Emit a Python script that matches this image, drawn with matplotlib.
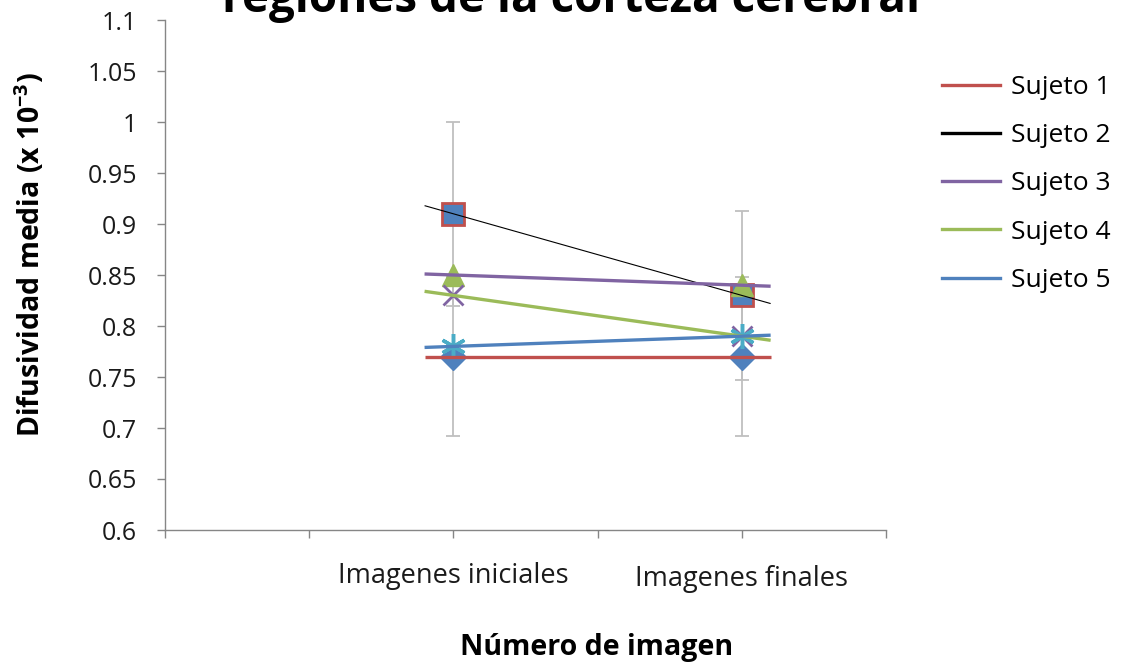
import numpy as np
import matplotlib
matplotlib.use("Agg")
import matplotlib.pyplot as plt
from matplotlib.lines import Line2D

plt.rcParams["font.family"] = ["Open Sans", "DejaVu Sans"]
plt.rcParams["mathtext.fontset"] = "custom"
plt.rcParams["mathtext.rm"] = "Open Sans"
plt.rcParams["mathtext.bf"] = "Open Sans:bold"

# --- data -------------------------------------------------------------
stages = ["Imagenes iniciales", "Imagenes finales"]
stage_x = [1, 2]
subjects = ["Sujeto 1", "Sujeto 2", "Sujeto 3", "Sujeto 4", "Sujeto 5"]
sujeto1 = [0.77, 0.77]
sujeto2 = [0.91, 0.83]
sujeto3 = [0.85, 0.84]
sujeto4 = [0.83, 0.79]
sujeto5 = [0.78, 0.79]
err_sujeto1 = [0.078, 0.078]
err_sujeto2 = [0.09, 0.083]
yticks = [0.6, 0.65, 0.7, 0.75, 0.8, 0.85, 0.9, 0.95, 1.0, 1.05, 1.1]
ytick_labels = ["0.6", "0.65", "0.7", "0.75", "0.8", "0.85", "0.9",
                "0.95", "1", "1.05", "1.1"]

# --- styles -----------------------------------------------------------
BLUE = "#4F81BD"
RED = "#C0504D"
GREEN = "#9BBB59"
PURPLE = "#8064A2"
AQUA = "#4BACC6"
AXIS_GRAY = "#868686"
TEXT = "#1a1a1a"

fig = plt.figure(figsize=(11.43, 6.68), dpi=100)
ax = fig.add_axes([165 / 1143, 138 / 668, 721 / 1143, 510 / 668])

x = np.array(stage_x, dtype=float)

# error bars (behind the markers)
ax.errorbar(x, sujeto1, yerr=err_sujeto1, fmt="none", ecolor="#BFBFBF",
            elinewidth=1.3, capsize=5, capthick=1.3, zorder=2)
ax.errorbar(x, sujeto2, yerr=err_sujeto2, fmt="none", ecolor="#BFBFBF",
            elinewidth=1.3, capsize=5, capthick=1.3, zorder=2)

# markers
ax.plot(x, sujeto1, linestyle="none", marker="D", ms=13, mfc=BLUE, mec=BLUE, zorder=3)
ax.plot(x, sujeto2, linestyle="none", marker="s", ms=16, mfc=BLUE, mec=RED, mew=2, zorder=3)
ax.plot(x, sujeto3, linestyle="none", marker="^", ms=16, mfc=GREEN, mec=GREEN, zorder=3)
ax.plot(x, sujeto4, linestyle="none", marker="x", ms=15, mec=PURPLE, mew=2, zorder=3)
ax.plot(x, sujeto5, linestyle="none", marker=(6, 2, 0), ms=18, mec=AQUA, mew=2.5, zorder=3)

# linear trend lines, extended 0.1 beyond each end
trend_styles = [(sujeto1, RED, 2.4), (sujeto2, "black", 0.8),
                (sujeto3, PURPLE, 2.4), (sujeto4, GREEN, 2.4),
                (sujeto5, BLUE, 2.4)]
xt = np.array([x[0] - 0.1, x[-1] + 0.1])
for values, color, lw in trend_styles:
    slope, intercept = np.polyfit(x, values, 1)
    ax.plot(xt, slope * xt + intercept, color=color, lw=lw, zorder=4,
            solid_capstyle="butt")

# axes
ax.set_xlim(0, 2.5)
ax.set_ylim(0.6, 1.1)
ax.set_xticks(np.arange(0, 2.51, 0.5))
ax.set_xticklabels(["", "", stages[0], "", stages[1], ""])
ax.set_yticks(yticks)
ax.set_yticklabels(ytick_labels)
for side in ("top", "right"):
    ax.spines[side].set_visible(False)
for side in ("left", "bottom"):
    ax.spines[side].set_color(AXIS_GRAY)
    ax.spines[side].set_linewidth(1.0)
ax.tick_params(axis="y", direction="out", length=6, width=1, color=AXIS_GRAY,
               labelsize=18, labelcolor=TEXT, pad=14)
ax.tick_params(axis="x", direction="out", length=6, width=1, color=AXIS_GRAY,
               labelsize=19.5, labelcolor=TEXT, pad=17)
xl = ax.get_xticklabels()
xl[4].set_y(-0.006)

# titles
fig.text(571 / 1143, 1 - 12 / 668, "regiones de la corteza cerebral",
         ha="center", va="baseline", fontsize=33, fontweight="bold")
fig.text(30 / 1143, 1 - 255 / 668, "Difusividad media (x 10$^{\\mathbf{-3}}$)",
         ha="center", va="center", rotation=90, fontsize=20.5, fontweight="bold")
fig.text(597 / 1143, 1 - 648 / 668, "Número de imagen",
         ha="center", va="center", fontsize=20.6, fontweight="bold")

# legend
handles = [Line2D([], [], color=c, lw=2.4) for _, c, _ in trend_styles]
handles[1] = Line2D([], [], color="black", lw=2.4)
fig.legend(handles, subjects, loc="upper left",
           bbox_to_anchor=(942 / 1143, 1 - 75 / 668), frameon=False,
           fontsize=19, handlelength=2.2, handletextpad=0.4,
           labelspacing=0.88, borderpad=0, borderaxespad=0)

fig.savefig("out.png", dpi=100)
